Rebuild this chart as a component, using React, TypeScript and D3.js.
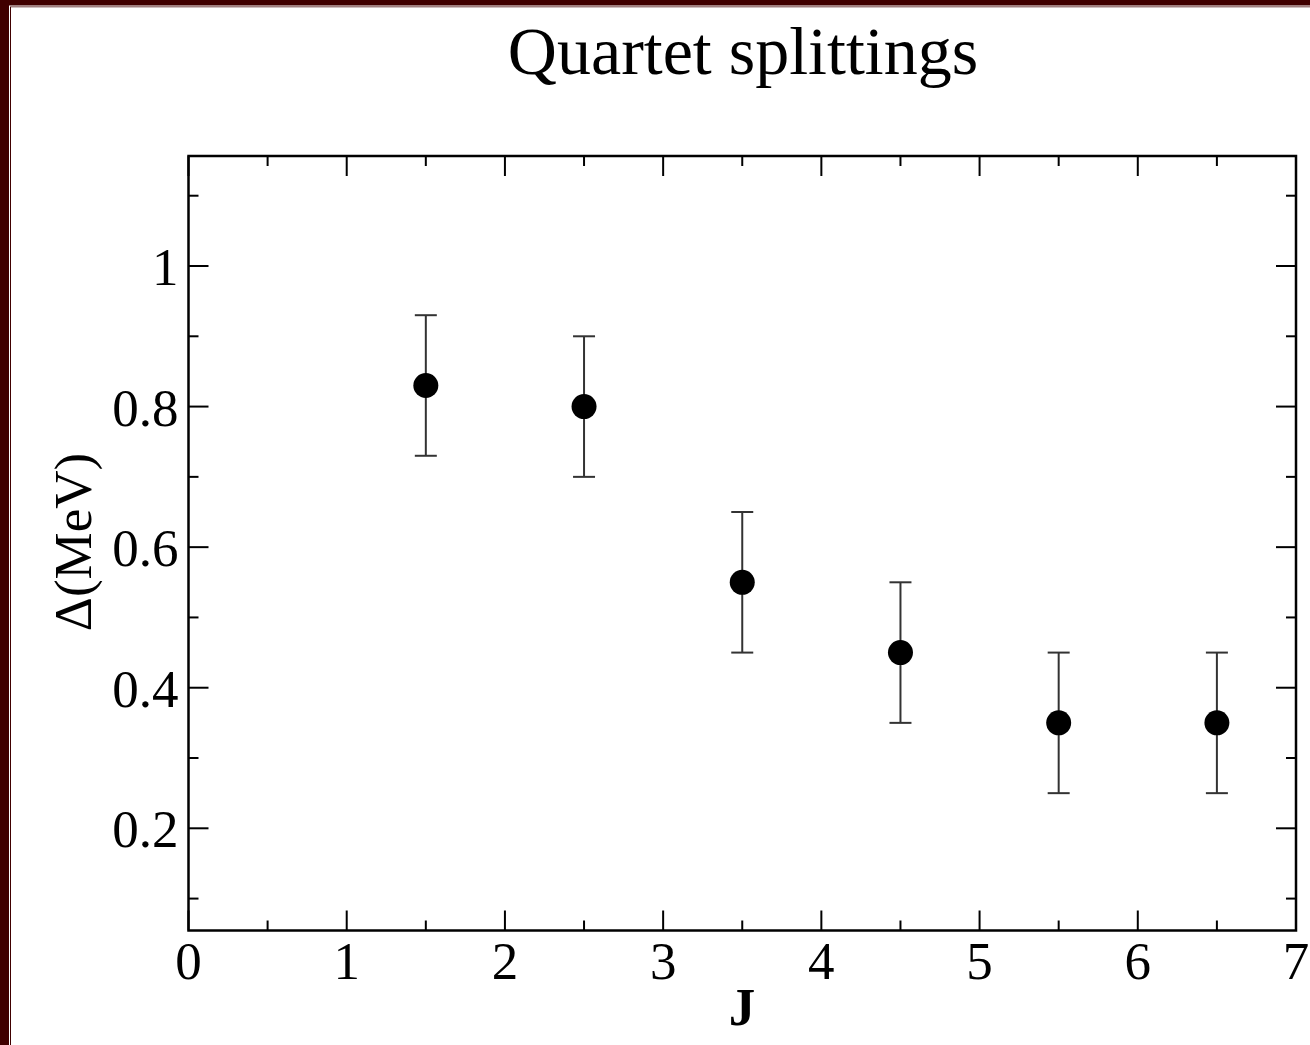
import React from "react";
import * as d3 from "d3";

const jValues = [1.5, 2.5, 3.5, 4.5, 5.5, 6.5];
const deltaValues = [0.83, 0.8, 0.55, 0.45, 0.35, 0.35];
const errValues = [0.1, 0.1, 0.1, 0.1, 0.1, 0.1];
const xTicks = [0, 1, 2, 3, 4, 5, 6, 7];
const xMinor = [0.5, 1.5, 2.5, 3.5, 4.5, 5.5, 6.5];
const yTicks = [0.2, 0.4, 0.6, 0.8, 1.0];
const yTickLabels = ["0.2", "0.4", "0.6", "0.8", "1"];
const yMinor = [0.1, 0.3, 0.5, 0.7, 0.9, 1.1];

const W = 1310;
const H = 1045;
const L = 188.5, R = 1296, T = 156, B = 930.5;

export default function App() {
  const x = d3.scaleLinear().domain([0, 7]).range([L, R]);
  const y = d3.scaleLinear().domain([0.2, 1.0]).range([828.3, 266]);
  const font = "'Liberation Serif', 'Times New Roman', serif";
  const major = 20, minor = 10;
  return (
    <div style={{ position: "absolute", left: 0, top: 0 }}>
      <svg width={W} height={H} style={{ display: "block" }}>
        <rect x={0} y={0} width={W} height={H} fill="#400000" />
        <rect x={9} y={5.5} width={W} height={H} fill="#ffffff" />
        <rect x={10.5} y={7} width={W + 10} height={H + 10} fill="none" stroke="#400000" strokeWidth={1} />
        <rect x={11} y={7.5} width={W} height={H} fill="#ffffff" />

        <text x={743} y={74} textAnchor="middle" fontFamily={font} fontSize={68} fill="#000">
          Quartet splittings
        </text>

        {/* ticks */}
        {xTicks.map((t) => (
          <g key={"xt" + t}>
            <line x1={x(t)} x2={x(t)} y1={B} y2={B - major} stroke="#000" strokeWidth={2} />
            <line x1={x(t)} x2={x(t)} y1={T} y2={T + major} stroke="#000" strokeWidth={2} />
            <text x={x(t)} y={979} textAnchor="middle" fontFamily={font} fontSize={53} fill="#000">
              {t}
            </text>
          </g>
        ))}
        {xMinor.map((t) => (
          <g key={"xm" + t}>
            <line x1={x(t)} x2={x(t)} y1={B} y2={B - minor} stroke="#000" strokeWidth={2} />
            <line x1={x(t)} x2={x(t)} y1={T} y2={T + minor} stroke="#000" strokeWidth={2} />
          </g>
        ))}
        {yTicks.map((t, i) => (
          <g key={"yt" + t}>
            <line x1={L} x2={L + major} y1={y(t)} y2={y(t)} stroke="#000" strokeWidth={2} />
            <line x1={R} x2={R - major} y1={y(t)} y2={y(t)} stroke="#000" strokeWidth={2} />
            <text x={L - 10} y={y(t) + 19} textAnchor="end" fontFamily={font} fontSize={53} fill="#000">
              {yTickLabels[i]}
            </text>
          </g>
        ))}
        {yMinor.map((t) => (
          <g key={"ym" + t}>
            <line x1={L} x2={L + minor} y1={y(t)} y2={y(t)} stroke="#000" strokeWidth={2} />
            <line x1={R} x2={R - minor} y1={y(t)} y2={y(t)} stroke="#000" strokeWidth={2} />
          </g>
        ))}

        <rect x={L} y={T} width={R - L} height={B - T} fill="none" stroke="#000" strokeWidth={2.5} />

        {/* error bars */}
        {jValues.map((j, i) => {
          const cx = x(j);
          const lo = y(deltaValues[i] - errValues[i]);
          const hi = y(deltaValues[i] + errValues[i]);
          return (
            <g key={"e" + i}>
              <line x1={cx} x2={cx} y1={lo} y2={hi} stroke="#333" strokeWidth={2} />
              <line x1={cx - 11} x2={cx + 11} y1={lo} y2={lo} stroke="#333" strokeWidth={2} />
              <line x1={cx - 11} x2={cx + 11} y1={hi} y2={hi} stroke="#333" strokeWidth={2} />
              <circle cx={cx} cy={y(deltaValues[i])} r={12.5} fill="#000" />
            </g>
          );
        })}

        <text
          transform={`translate(91, 542) rotate(-90)`}
          textAnchor="middle"
          fontFamily={font}
          fontSize={53}
          fill="#000"
        >
          Δ(MeV)
        </text>
        <text x={742} y={1025} textAnchor="middle" fontFamily={font} fontSize={53} fontWeight="bold" fill="#000">
          J
        </text>
      </svg>
    </div>
  );
}
